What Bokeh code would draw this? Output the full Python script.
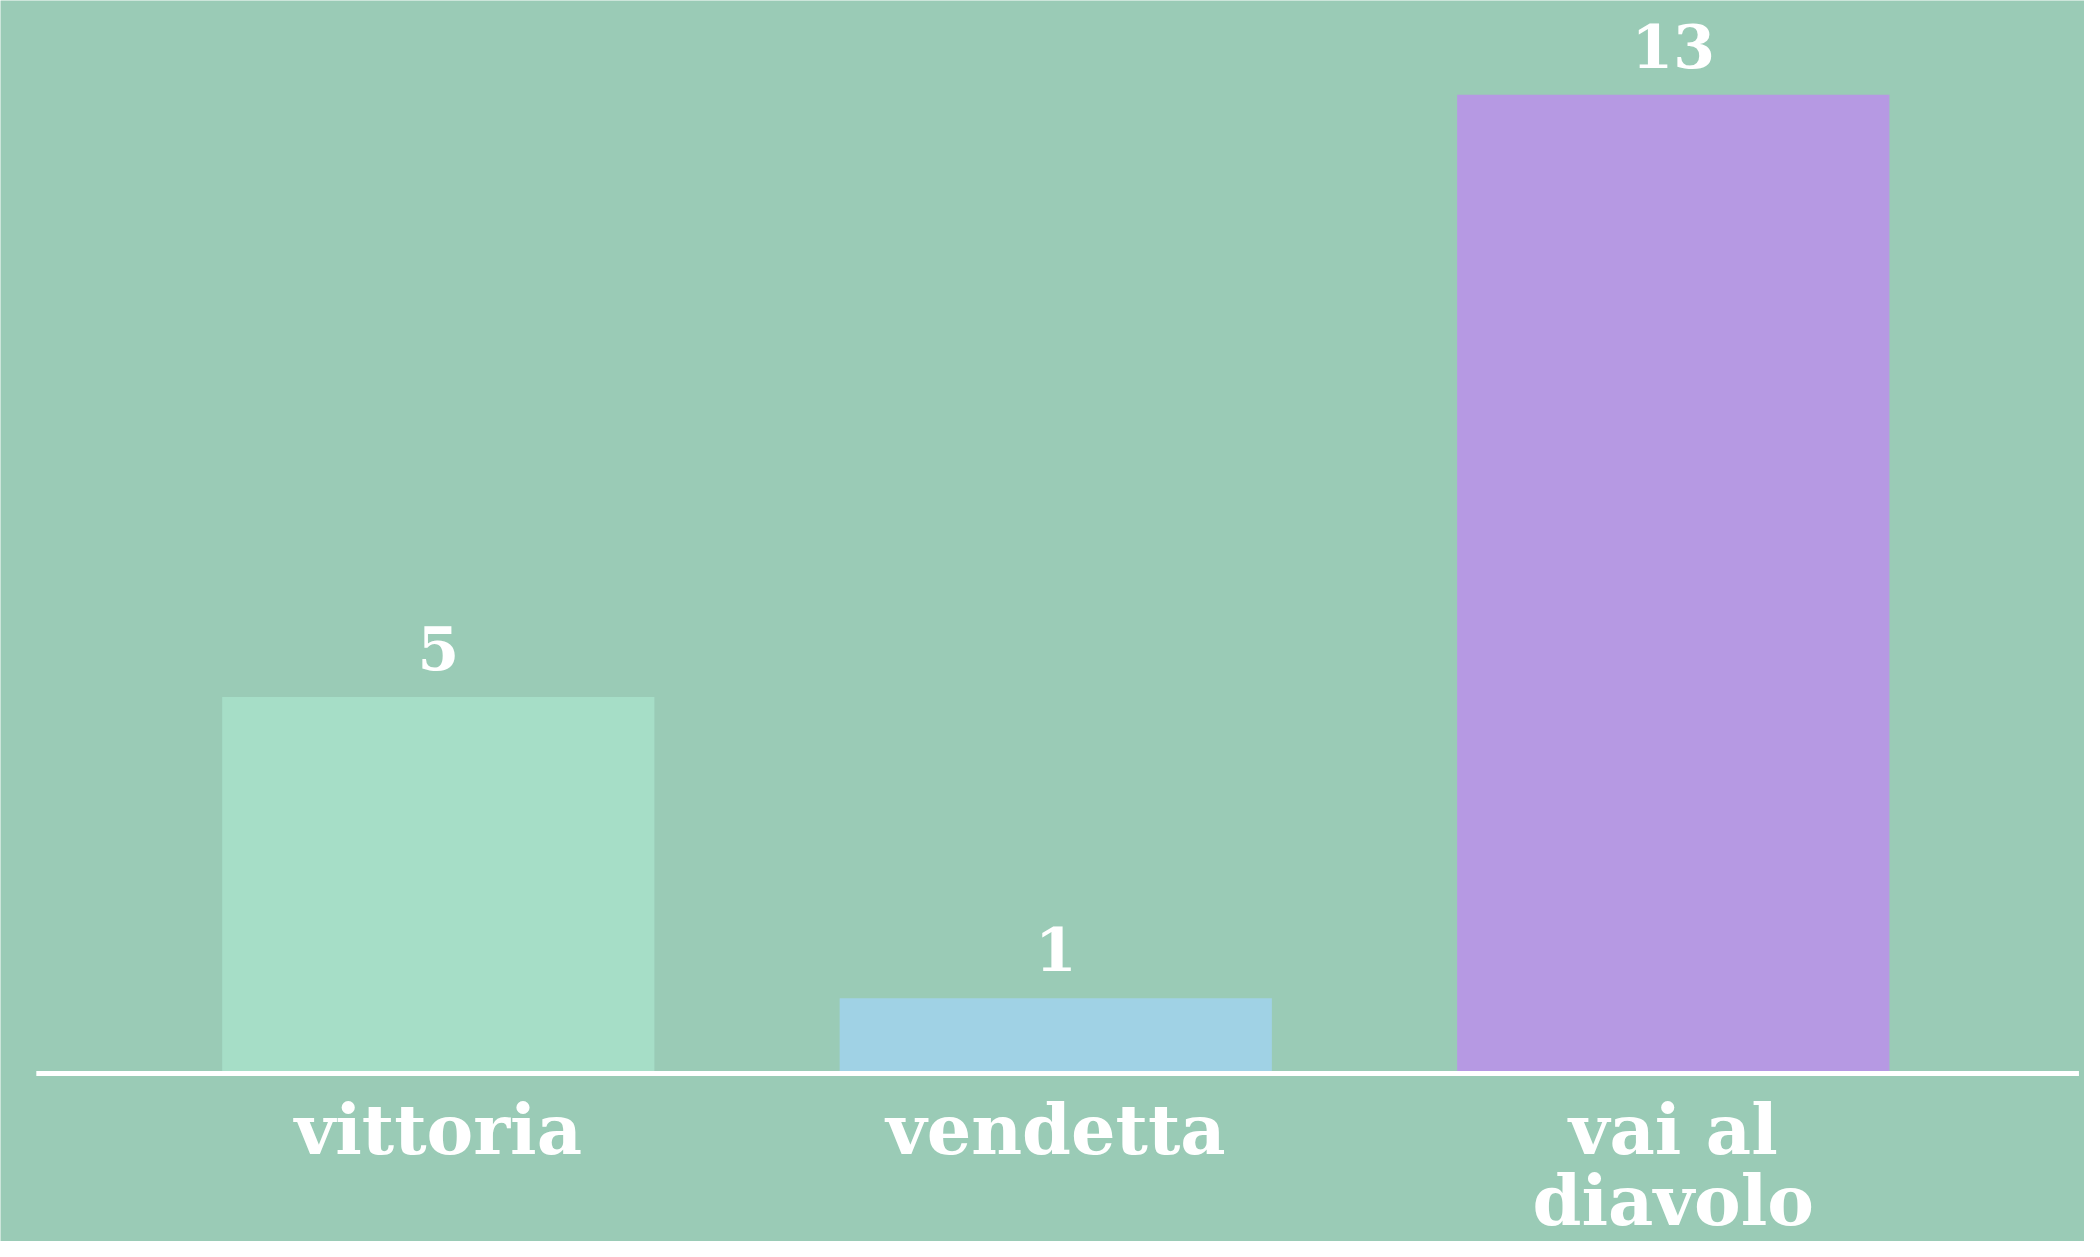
from bokeh.plotting import figure
from bokeh.models import ColumnDataSource, Range1d
from bokeh.core.properties import value
from bokeh.embed import file_html
from bokeh.resources import INLINE

categories = ["vittoria", "vendetta", "vai al\ndiavolo"]
counts = [5, 1, 13]
colors = ["#A6DEC7", "#A0D2E5", "#B699E3"]

BG = "#9ACBB6"
FONT = "DejaVu Serif"

idx = list(range(len(categories)))
src = ColumnDataSource(dict(x=idx, top=counts, color=colors, lab=[str(c) for c in counts]))

p = figure(width=2084, height=1241, output_backend="svg", toolbar_location=None,
           x_range=Range1d(-0.709, 2.666), y_range=Range1d(-2.23, 14.25),
           min_border_left=0, min_border_right=0, min_border_top=0, min_border_bottom=0)
p.axis.visible = False
p.grid.visible = False
p.outline_line_color = None
p.background_fill_color = BG
p.border_fill_color = BG

p.vbar(x="x", top="top", bottom=0, width=0.70, fill_color="color", line_color=None, source=src)
# baseline (x axis line), slightly wider than the outer bars' slots
p.segment(x0=[idx[0] - 0.651], y0=[0], x1=[idx[-1] + 0.657], y1=[0], line_color="white", line_width=5)

p.text(x="x", y="top", text="lab", source=src, text_align="center", text_baseline="alphabetic",
       y_offset=-49, text_color="white", text_font=value(FONT), text_font_style="bold",
       text_font_size="60px")

# category labels, one text run per line
lx, lt, lo = [], [], []
for i, c in zip(idx, categories):
    for j, line in enumerate(c.split("\n")):
        lx.append(i)
        lt.append(line)
        lo.append(56 + 71 * j)
lsrc = ColumnDataSource(dict(x=lx, t=lt, off=lo))
p.text(x="x", y=0, text="t", source=lsrc, text_align="center", text_baseline="alphabetic",
       y_offset="off", text_color="white", text_font=value(FONT), text_font_style="bold",
       text_font_size="70px")

open("out.html", "w").write(file_html(p, INLINE))
